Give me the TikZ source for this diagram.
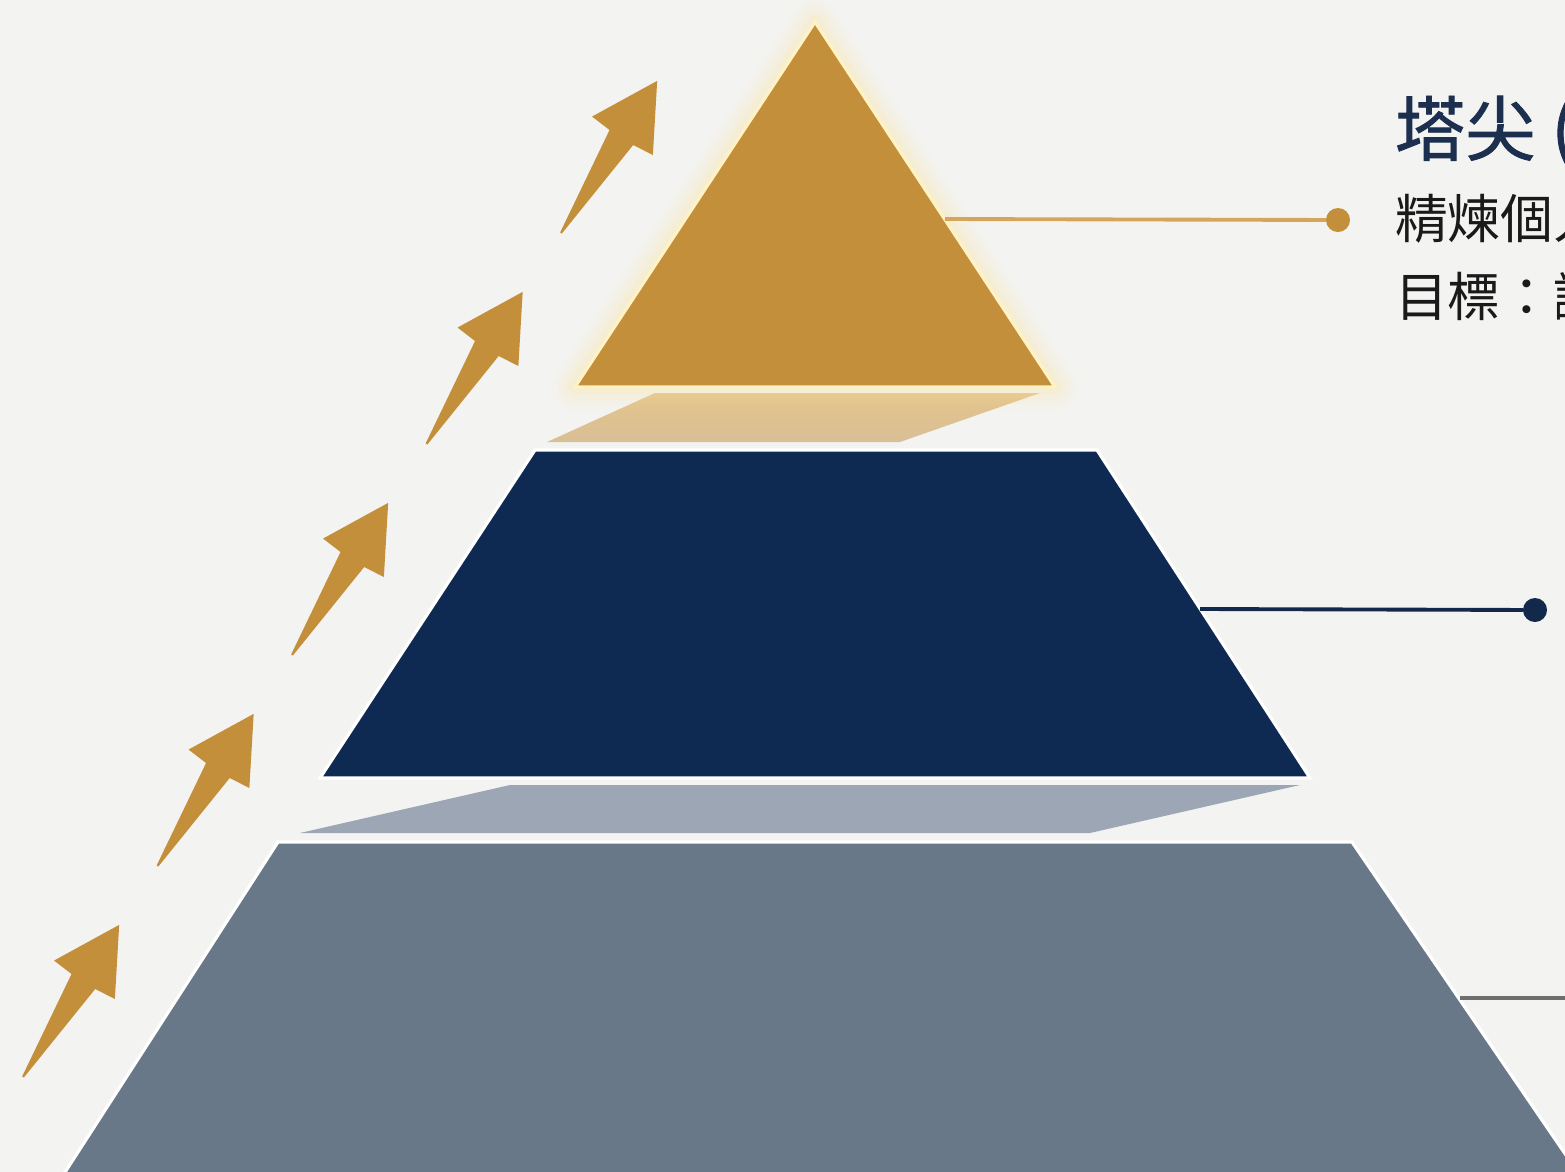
\documentclass[tikz,border=0pt]{standalone}
\usepackage{fontspec}
\newfontfamily\cjk{Noto Sans CJK TC}
\newfontfamily\cjkhead[FakeBold=1.3]{Noto Sans CJK TC}
\usepackage{xcolor}
\usetikzlibrary{positioning}
\definecolor{paper}{HTML}{F3F3F1}
\definecolor{gold}{HTML}{C48F3B}
\definecolor{goldline}{HTML}{D6A55C}
\definecolor{glow}{HTML}{FFE7A0}
\definecolor{rim}{HTML}{FFF2C4}
\definecolor{tantop}{HTML}{E2C48C}
\definecolor{tanbot}{HTML}{D9BF95}
\definecolor{navy}{HTML}{0F2A52}
\definecolor{navydot}{HTML}{13294B}
\definecolor{haze}{HTML}{9CA6B4}
\definecolor{slate}{HTML}{687889}
\definecolor{slateline}{HTML}{6E6E6E}
\definecolor{titleblue}{HTML}{1C2F4F}
\definecolor{ink}{HTML}{1A1A1A}

\begin{document}
\begin{tikzpicture}[
    x=0.01cm,y=-0.01cm,
    every node/.style={inner sep=0pt,outer sep=0pt},
    layer/.style={draw=white,line width=0.9pt,line join=miter},
    lead/.style={line width=1.1pt},
    dot/.style={circle,minimum size=0.24cm},
    riser/.style={fill=gold},
    heading/.style={anchor=base west,text=titleblue,
                    font=\cjkhead\fontsize{20pt}{24pt}\selectfont},
    note/.style={anchor=base west,text=ink,
                 font=\cjk\fontsize{15pt}{18pt}\selectfont},
]
    \useasboundingbox (0,0) rectangle (1565,1172);
    \clip (0,0) rectangle (1565,1172);
    \fill[paper] (0,0) rectangle (1565,1172);

    % rising arrows
    \foreach \i in {0,...,4}{
      \begin{scope}[shift={(23+134.5*\i,1077-211*\i)},rotate=57.7]
        \fill[riser] (180,0) -- (115,36) -- (113,14) -- (0,1)
          -- (0,-1) -- (113,-14) -- (115,-36) -- cycle;
      \end{scope}
    }

    % base tier
    \coordinate (baseNW) at (278,842);
    \coordinate (baseNE) at (1352,842);
    \fill[slate,layer] (baseNW) -- (baseNE) -- (1583,1180) -- (60,1180) -- cycle;
    \fill[haze] (510,785) -- (1300,785) -- (1090,833) -- (300,833) -- cycle;

    % middle tier
    \coordinate (midNW) at (535,450);
    \coordinate (midNE) at (1097,450);
    \fill[navy,layer] (midNW) -- (midNE) -- (1310,778) -- (320,778) -- cycle;
    \shade[top color=tantop,bottom color=tanbot]
      (655,393) -- (1040,393) -- (900,442) -- (547,442) -- cycle;

    % top tier with glow
    \coordinate (apex) at (815,22);
    \coordinate (tipSW) at (575,387);
    \coordinate (tipSE) at (1055,387);
    \foreach \w/\o in {13pt/0.05,10pt/0.07,7pt/0.1,4pt/0.16}
      \draw[glow,line width=\w,opacity=\o,line join=round]
        (apex) -- (tipSE) -- (tipSW) -- cycle;
    \fill[gold] (apex) -- (tipSE) -- (tipSW) -- cycle;
    \draw[rim,line width=0.9pt,line join=miter] (apex) -- (tipSE) -- (tipSW) -- cycle;

    % leaders
    \coordinate (tipEdge) at (945,219);
    \node[dot,fill=gold] (tipDot) at (1338,220) {};
    \draw[goldline,lead] (tipEdge) -- (tipDot);

    \coordinate (midEdge) at (1200,609);
    \node[dot,fill=navydot] (midDot) at (1535,610) {};
    \draw[navydot,lead] (midEdge) -- (midDot);

    \coordinate (baseEdge) at (1460,998);
    \coordinate (baseEnd) at (1590,998);
    \draw[slateline,lead] (baseEdge) -- (baseEnd);

    % labels
    \node[heading] (tipTitle) at (1395,155) {塔尖 (};
    \node[note] (tipDesc) at (1395,238) {精煉個人};
    \node[note] (tipGoal) at (1395,316) {目標：讓};
\end{tikzpicture}
\end{document}
